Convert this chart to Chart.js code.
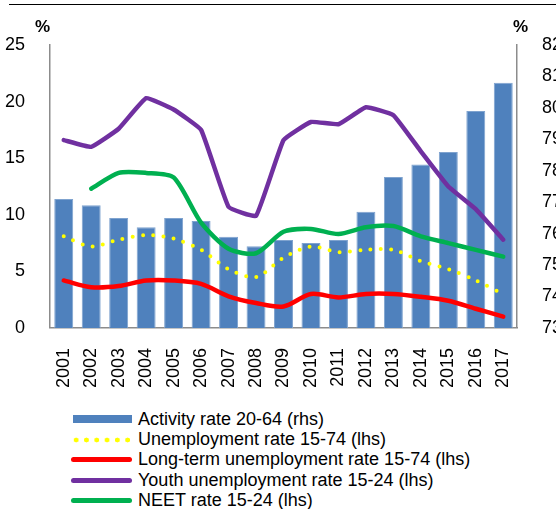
<!DOCTYPE html>
<html>
<head>
<meta charset="utf-8">
<script src="https://cdn.jsdelivr.net/npm/chart.js@4.4.1/dist/chart.umd.min.js"></script>
<style>
  body { margin: 0; background: #fff; font-family: "Liberation Sans", Arial, sans-serif; }
  #wrap { position: relative; width: 556px; height: 509px; overflow: hidden; }
  #topRule { position: absolute; left: 9px; right: 0; top: 4px; border-top: 1.5px solid #000; }
  #chartBox { position: absolute; left: 0; top: 0; width: 556px; height: 400px; }
  #legend { position: absolute; left: 71px; top: 409px; }
  #legend ul { list-style: none; margin: 0; padding: 0; }
  #legend li { display: flex; align-items: center; height: 20.4px; font-size: 18px; color: #000; white-space: nowrap; }
  #legend .sw { display: inline-block; width: 61px; margin-right: 6px; flex-shrink: 0; }
</style>
</head>
<body>
<div id="wrap">
  <div id="topRule"></div>
  <div id="chartBox"><canvas id="chart"></canvas></div>
  <div id="legend"></div>
</div>
<script>
const years = ['2001', '2002', '2003', '2004', '2005', '2006', '2007', '2008', '2009',
  '2010', '2011', '2012', '2013', '2014', '2015', '2016', '2017'];
const activityRate = [77.1, 76.9, 76.5, 76.2, 76.5, 76.4, 75.9, 75.6, 75.8, 75.7, 75.8, 76.7, 77.8, 78.2, 78.6, 79.9, 80.8];
const unemploymentRate = [8.1, 7.2, 7.8, 8.2, 7.9, 6.9, 5.2, 4.5, 6.2, 7.2, 6.7, 6.9, 6.9, 5.9, 5.2, 4.2, 3.0];
const longTermRate = [4.2, 3.6, 3.7, 4.2, 4.2, 3.9, 2.8, 2.2, 1.9, 3.0, 2.7, 3.0, 3.0, 2.75, 2.4, 1.7, 1.0];
const youthRate = [16.6, 16.0, 17.6, 20.3, 19.3, 17.5, 10.7, 9.9, 16.6, 18.2, 18.0, 19.5, 18.8, 15.6, 12.5, 10.5, 7.8];
const neetRate = [null, 12.3, 13.7, 13.7, 13.3, 9.3, 7.0, 6.6, 8.5, 8.75, 8.3, 8.9, 9.0, 8.1, 7.5, 6.9, 6.3];
const lhsTicks = [0, 5, 10, 15, 20, 25];
const rhsTicks = [73, 74, 75, 76, 77, 78, 79, 80, 81, 82];

const FONT = '"Liberation Sans", Arial, sans-serif';
const BLUE = '#4f81bd';
const AXIS_GREY = '#8c8c8c';

// "%" above both value axes
const unitLabels = {
  id: 'unitLabels',
  afterDraw(chart) {
    const {ctx, chartArea, scales} = chart;
    ctx.save();
    ctx.font = 'bold 17px ' + FONT;
    ctx.fillStyle = '#000';
    ctx.textBaseline = 'middle';
    ctx.textAlign = 'right';
    ctx.fillText('%', scales.y.right, chartArea.top - 18);
    ctx.textAlign = 'left';
    ctx.fillText('%', scales.y1.left - 4, chartArea.top - 18);
    ctx.restore();
  }
};

// vertical legend built from the datasets
const htmlLegend = {
  id: 'htmlLegend',
  afterUpdate(chart) {
    const box = document.getElementById('legend');
    box.innerHTML = '';
    const ul = document.createElement('ul');
    chart.data.datasets.forEach(ds => {
      const li = document.createElement('li');
      const sw = document.createElement('span');
      sw.className = 'sw';
      if (ds.type === 'bar') {
        sw.style.height = '8px';
        sw.style.marginLeft = '2px';
        sw.style.width = '59px';
        sw.style.background = ds.backgroundColor;
      } else if (ds.borderDash) {
        sw.style.height = '6px';
        sw.style.backgroundImage = 'radial-gradient(circle, ' + ds.borderColor + ' 2.2px, transparent 2.7px)';
        sw.style.backgroundSize = '10.3px 6px';
      } else {
        sw.style.height = '5px';
        sw.style.borderRadius = '3px';
        sw.style.background = ds.borderColor;
      }
      const txt = document.createElement('span');
      txt.textContent = ds.label;
      li.appendChild(sw);
      li.appendChild(txt);
      ul.appendChild(li);
    });
    box.appendChild(ul);
  }
};

const lineDefaults = {
  type: 'line',
  yAxisID: 'y',
  pointRadius: 0,
  borderWidth: 4.5,
  borderCapStyle: 'round',
  borderJoinStyle: 'round',
  fill: false,
  order: 1
};

new Chart(document.getElementById('chart'), {
  type: 'bar',
  data: {
    labels: years,
    datasets: [
      {
        type: 'bar',
        label: 'Activity rate 20-64 (rhs)',
        data: activityRate,
        yAxisID: 'y1',
        backgroundColor: BLUE,
        borderColor: '#7fa3cf',
        borderWidth: 1,
        barPercentage: 0.69,
        categoryPercentage: 1,
        order: 2
      },
      {
        ...lineDefaults,
        label: 'Unemployment rate 15-74 (lhs)',
        data: unemploymentRate,
        borderColor: '#ffff00',
        borderWidth: 4,
        borderDash: [0, 10.3],
        tension: 0.3
      },
      {
        ...lineDefaults,
        label: 'Long-term unemployment rate 15-74 (lhs)',
        data: longTermRate,
        borderColor: '#ff0000',
        tension: 0.3
      },
      {
        ...lineDefaults,
        label: 'Youth unemployment rate 15-24 (lhs)',
        data: youthRate,
        borderColor: '#7030a0',
        tension: 0.1
      },
      {
        ...lineDefaults,
        label: 'NEET rate 15-24 (lhs)',
        data: neetRate,
        borderColor: '#00b050',
        tension: 0.25
      }
    ]
  },
  options: {
    responsive: true,
    maintainAspectRatio: false,
    animation: false,
    layout: { padding: { top: 45, left: 0, right: 0, bottom: 0 } },
    plugins: {
      legend: { display: false },
      tooltip: { enabled: false },
      title: { display: false }
    },
    scales: {
      x: {
        grid: { display: false },
        border: { display: true, color: AXIS_GREY, width: 1.5 },
        ticks: {
          color: '#000',
          font: { family: FONT, size: 18 },
          minRotation: 90,
          maxRotation: 90,
          padding: 12
        }
      },
      y: {
        position: 'left',
        min: 0,
        max: 25,
        afterBuildTicks: scale => { scale.ticks = lhsTicks.map(v => ({value: v})); },
        afterFit: scale => { scale.width = 50; },
        grid: { display: false },
        border: { display: true, color: AXIS_GREY, width: 1.5 },
        ticks: { color: '#000', font: { family: FONT, size: 18 }, padding: 17 }
      },
      y1: {
        position: 'right',
        min: 73,
        max: 82,
        afterBuildTicks: scale => { scale.ticks = rhsTicks.map(v => ({value: v})); },
        afterFit: scale => { scale.width = 39; },
        grid: { display: false },
        border: { display: true, color: AXIS_GREY, width: 1.5 },
        ticks: { color: '#000', font: { family: FONT, size: 18 }, padding: 17 }
      }
    }
  },
  plugins: [unitLabels, htmlLegend]
});
</script>
</body>
</html>
